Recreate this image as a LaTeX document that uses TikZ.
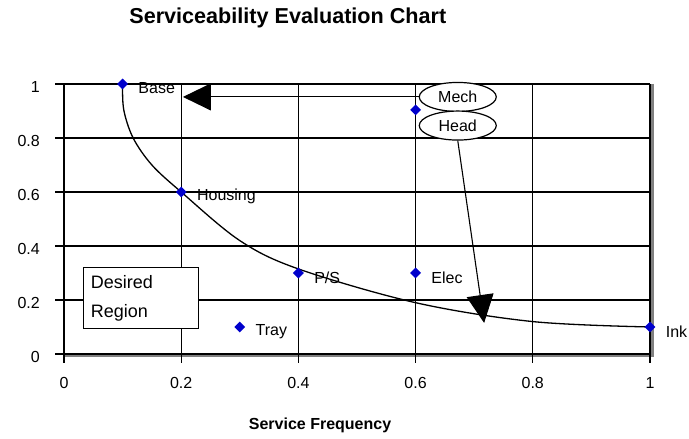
\documentclass[tikz,border=0pt]{standalone}
\usepackage{fontspec}
\setmainfont{Liberation Sans}
\usetikzlibrary{shapes.geometric,arrows.meta,positioning}
\definecolor{ptblue}{RGB}{0,0,204}
\tikzset{
  pt/.style={shape=diamond,fill=ptblue,inner sep=0pt,minimum size=11pt},
  ptlabel/.style={inner sep=0pt,font=\fontsize{16}{19}\selectfont},
  ticklabel/.style={inner sep=0pt,font=\fontsize{16}{19}\selectfont},
  bubble/.style={draw,line width=1.2pt,ellipse,minimum width=77pt,minimum height=29pt,inner sep=0pt,font=\fontsize{16}{19}\selectfont},
  bigarrow/.style={-{Triangle[length=28pt,width=27pt]},line width=1.1pt},
  gridline/.style={line width=1.3pt}
}

\begin{document}
\begin{tikzpicture}[x=586pt,y=270pt]
\useasboundingbox (-0.1092,-0.3148) rectangle (1.0666,1.3111);
% shadow of the plot area
\draw[gray,line width=3pt] (1.004,1) -- (1.004,-0.007) -- (0,-0.007);
% grid
\foreach \i in {1,...,5} {
  \draw[gridline] (\i/5,0) -- (\i/5,1);
  \draw[gridline] (0,\i/5) -- (1,\i/5);
}
\draw[line width=1.6pt] (0,1) -- (0,0) -- (1,0);
\draw[line width=2.5pt] (1,1) -- (1,0.933);
% ticks and tick labels
\foreach \v/\t in {0/0,1/0.2,2/0.4,3/0.6,4/0.8,5/1} {
  \draw[gridline] (\v/5,0) -- ++(0,-9pt);
  \draw[gridline] (0,\v/5) -- ++(-9pt,0);
  \node[ticklabel] (xt\v) at (\v/5,-0.107) {\t};
  \node[ticklabel,anchor=east] (yt\v) at (-0.041,\v/5-0.011) {\t};
}
% titles
\node[font=\bfseries\fontsize{21.6}{26}\selectfont] (title) at (0.382,1.246) {Serviceability Evaluation Chart};
\node[font=\bfseries\fontsize{16}{19}\selectfont] (xtitle) at (0.437,-0.263) {Service Frequency};
% fitted curve
\draw[line width=1.3pt] plot[smooth,tension=0.55] coordinates {(0.1,1) (0.102,0.904) (0.118,0.8) (0.15,0.7) (0.2,0.6) (0.3,0.42) (0.4,0.315) (0.6,0.19) (0.8,0.12) (1,0.1)};
% data points
\node[pt] (base) at (0.1,1) {};
\node[pt] (housing) at (0.2,0.6) {};
\node[pt] (ps) at (0.4,0.3) {};
\node[pt] (elec) at (0.6,0.3) {};
\node[pt] (tray) at (0.3,0.1) {};
\node[pt] (mechpt) at (0.6,0.904) {};
\node[pt] (ink) at (1,0.1) {};
\node[ptlabel,right=10pt of base,yshift=-4.5pt] (baselbl) {Base};
\node[ptlabel,right=10pt of housing,yshift=-4.5pt] (housinglbl) {Housing};
\node[ptlabel,right=10pt of ps,yshift=-4.5pt] (pslbl) {P/S};
\node[ptlabel,right=10pt of elec,yshift=-4.5pt] (eleclbl) {Elec};
\node[ptlabel,right=10pt of tray,yshift=-4.5pt] (traylbl) {Tray};
\node[ptlabel,right=10pt of ink,yshift=-4.5pt] (inklbl) {Ink};
% desired region
\node[draw,fill=white,line width=1pt,minimum width=115pt,minimum height=61pt,text width=101pt,inner xsep=7pt,align=left,font=\fontsize{18}{29}\selectfont] (desired) at (0.1322,0.2056) {Desired\\Region};
% callouts
\node[bubble,fill=white] (mech) at (0.672,0.952) {Mech};
\node[bubble,fill=white] (head) at (0.672,0.846) {Head};
\coordinate (basetip) at (0.203,0.952);
\coordinate (curvetip) at (0.717,0.115);
\draw[bigarrow] (mech.west) -- (basetip);
\draw[bigarrow] (head.south) -- (curvetip);
\end{tikzpicture}
\end{document}
